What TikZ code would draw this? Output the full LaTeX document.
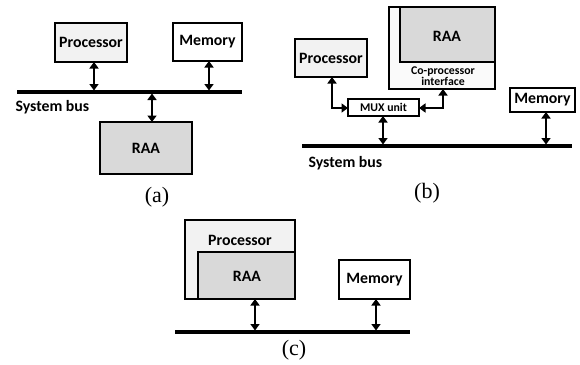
\documentclass[tikz,border=0pt]{standalone}
\usepackage{fontspec}
\setmainfont{Liberation Serif}
\setsansfont{Carlito}
\usetikzlibrary{arrows.meta}
\definecolor{procfill}{HTML}{F2F2F2}
\definecolor{raafill}{HTML}{D9D9D9}
\definecolor{cofill}{HTML}{FAFAFA}
\tikzset{
  box/.style={draw=black, line width=1.5pt},
  bus/.style={line width=3.6pt},
  link/.style={line width=2.8pt, {Triangle[length=6.5pt,width=9pt]}-{Triangle[length=6.5pt,width=9pt]}},
  lbl/.style={font=\sffamily\bfseries\fontsize{15.8}{17}\selectfont},
  small/.style={font=\sffamily\bfseries\fontsize{11.8}{12.5}\selectfont, align=center},
  subcap/.style={font=\fontsize{22}{24}\selectfont},
}
\begin{document}
\begin{tikzpicture}[x=1pt,y=-1pt]
\useasboundingbox (0,0) rectangle (580,364);

% ---------- (a) shared system bus ----------
\draw[box, fill=procfill] (55,23) rectangle (127,62);
\node[lbl] (aproc) at (91,42.5) {Processor};
\draw[box, fill=white] (173,23) rectangle (242,61);
\node[lbl] (amem) at (207.5,42) {Memory};
\draw[box, fill=raafill] (100,122) rectangle (192,174);
\node[lbl] (araa) at (146,148) {RAA};
\draw[bus] (17,92) -- (242,92);
\node[lbl, anchor=west] (abus) at (12,107) {System bus};
\coordinate (ap1) at (94,62);  \coordinate (ap2) at (94,90.5);
\coordinate (am1) at (209,61); \coordinate (am2) at (209,90.5);
\coordinate (ar1) at (152,93.5); \coordinate (ar2) at (152,122);
\draw[link] (ap1) -- (ap2);
\draw[link] (am1) -- (am2);
\draw[link] (ar1) -- (ar2);
\node[subcap] (capa) at (157,197) {(a)};

% ---------- (b) co-processor behind a MUX ----------
\draw[box, fill=procfill] (295,39) rectangle (367,77);
\node[lbl] (bproc) at (331,58) {Processor};
\draw[box, fill=cofill] (389,7) rectangle (495,89);
\draw[box, fill=raafill] (400,7) rectangle (495,62);
\node[lbl] (braa) at (447,36) {RAA};
\node[small] (bif) at (443,76) {Co-processor\\[-2pt]interface};
\draw[box, fill=white] (348,99) rectangle (419,116);
\node[small] (bmux) at (383.5,107.5) {MUX unit};
\draw[box, fill=white] (510,88) rectangle (575,112);
\node[lbl] (bmem) at (542.5,100) {Memory};
\draw[bus] (302,146) -- (572,146);
\node[lbl, anchor=west] (bbus) at (305,163) {System bus};
\coordinate (bp1) at (332,77);  \coordinate (bp2) at (348,108);
\coordinate (bc1) at (443,89);  \coordinate (bc2) at (419,108);
\coordinate (bm1) at (383,116); \coordinate (bm2) at (383,144.5);
\coordinate (bq1) at (546,112); \coordinate (bq2) at (546,144.5);
\draw[link] (bp1) |- (bp2);
\draw[link] (bc1) |- (bc2);
\draw[link] (bm1) -- (bm2);
\draw[link] (bq1) -- (bq2);
\node[subcap] (capb) at (427,193) {(b)};

% ---------- (c) RAA inside the processor ----------
\draw[box, fill=procfill] (185,220) rectangle (295,299);
\draw[box, fill=raafill] (198,252) rectangle (295,299);
\node[lbl] (cproc) at (240,240) {Processor};
\node[lbl] (craa) at (247,276) {RAA};
\draw[box, fill=white] (339,260) rectangle (410,299);
\node[lbl] (cmem) at (374.5,280) {Memory};
\draw[bus] (175,332) -- (410,332);
\coordinate (cr1) at (255,299); \coordinate (cr2) at (255,330.5);
\coordinate (cm1) at (376,299); \coordinate (cm2) at (376,330.5);
\draw[link] (cr1) -- (cr2);
\draw[link] (cm1) -- (cm2);
\node[subcap] (capc) at (294,350) {(c)};
\end{tikzpicture}
\end{document}
